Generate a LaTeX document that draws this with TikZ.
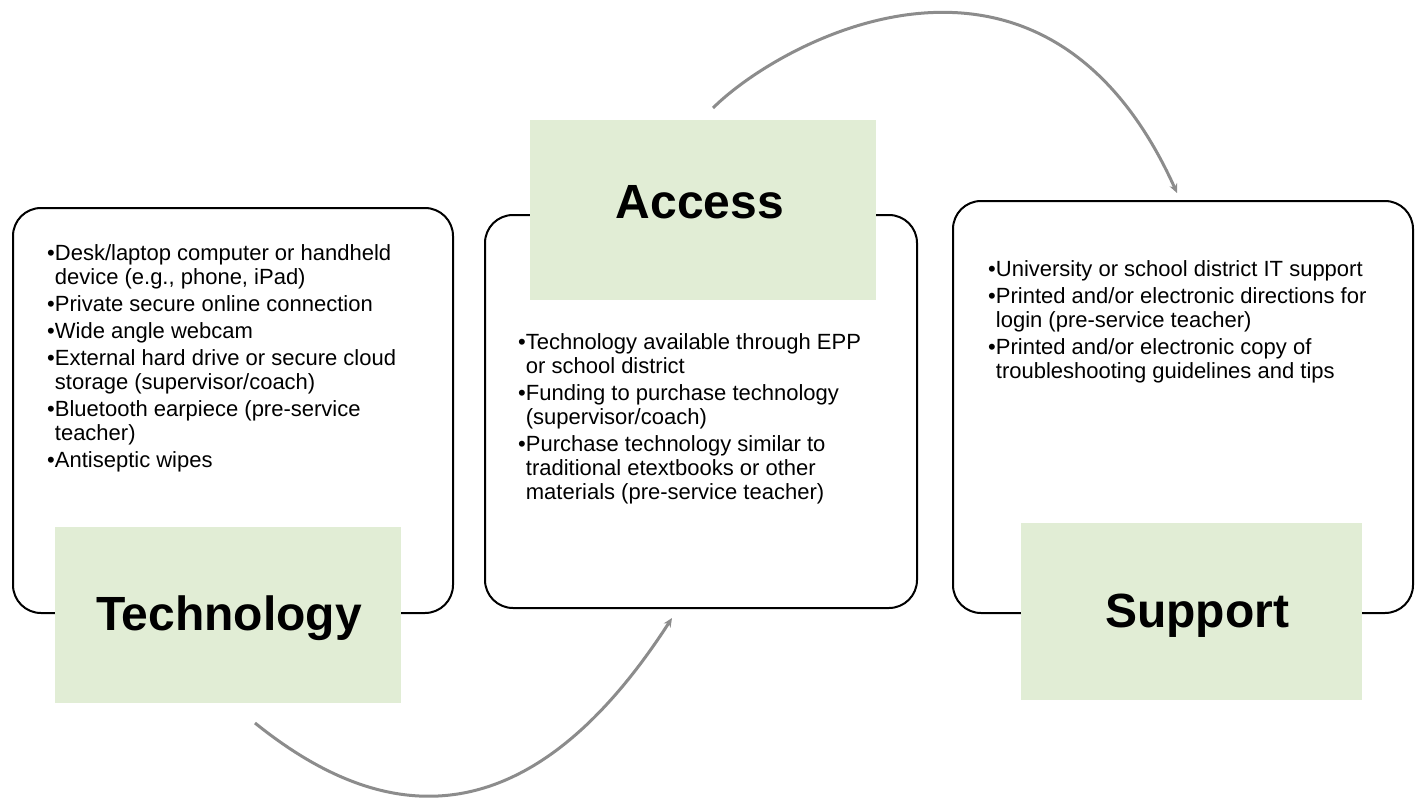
\documentclass[tikz,border=0pt]{standalone}
\usepackage{fontspec}
\setmainfont{Liberation Sans}
\usetikzlibrary{arrows.meta}
\definecolor{pgreen}{RGB}{225,237,213}
\definecolor{arrgray}{RGB}{140,140,140}
\newcommand{\blt}{\textbullet}
\newcommand{\ind}{\hphantom{\textbullet}}
\begin{document}
\begin{tikzpicture}[x=1pt,y=-1pt,
  frame/.style={draw=black, line width=2pt, rounded corners=28pt},
  greenbox/.style={fill=pgreen, draw=none, inner sep=0pt},
  title/.style={font=\fontsize{48}{50}\selectfont\bfseries, inner sep=0pt, anchor=base},
  body/.style={font=\fontsize{22}{24}\selectfont, align=left, inner sep=0pt, anchor=base west},
  cyc/.style={draw=arrgray, line width=3pt, -{Stealth[length=9pt,width=8pt]}}]
\useasboundingbox (0,0) rectangle (1418,800);
\fill[white] (0,0) rectangle (1418,800);

% frames
\draw[frame] (13,208) rectangle (453,613);
\draw[frame] (485,215) rectangle (917,608);
\draw[frame] (953,201) rectangle (1413,613);

% green title boxes
\fill[greenbox] (55,527) rectangle (401,703);
\fill[greenbox] (530,120) rectangle (876,300);
\fill[greenbox] (1021,523) rectangle (1362,700);

% titles
\node[title] (ttech) at (229,630) {Technology};
\node[title] (tacc) at (700,218) {Access};
\node[title] (tsup) at (1197,627) {Support};

% body texts (anchored at the baseline of their last line)
\node[body] (btech) at (47,467) {\blt Desk/laptop computer or handheld\\
\ind device (e.g., phone, iPad)\\[3pt]
\blt Private secure online connection\\[3pt]
\blt Wide angle webcam\\[3pt]
\blt External hard drive or secure cloud\\
\ind storage (supervisor/coach)\\[3pt]
\blt Bluetooth earpiece (pre-service\\
\ind teacher)\\[3pt]
\blt Antiseptic wipes};

\node[body] (bacc) at (518,499) {\blt Technology available through EPP\\
\ind or school district\\[3pt]
\blt Funding to purchase technology\\
\ind (supervisor/coach)\\[3pt]
\blt Purchase technology similar to\\
\ind traditional etextbooks or other\\
\ind materials (pre-service teacher)};

\node[body] (bsup) at (988,378) {\blt University or school district IT support\\[3pt]
\blt Printed and/or electronic directions for\\
\ind login (pre-service teacher)\\[3pt]
\blt Printed and/or electronic copy of\\
\ind troubleshooting guidelines and tips};

% cycle arrows
\coordinate (a1s) at (255,723);
\coordinate (a1e) at (672,618);
\coordinate (a2s) at (713,108);
\coordinate (a2e) at (1177,193);
\draw[cyc] (a1s) .. controls (363,810) and (514,863) .. (a1e);
\draw[cyc] (a2s) .. controls (780,41) and (1043,-104) .. (a2e);
\end{tikzpicture}
\end{document}
